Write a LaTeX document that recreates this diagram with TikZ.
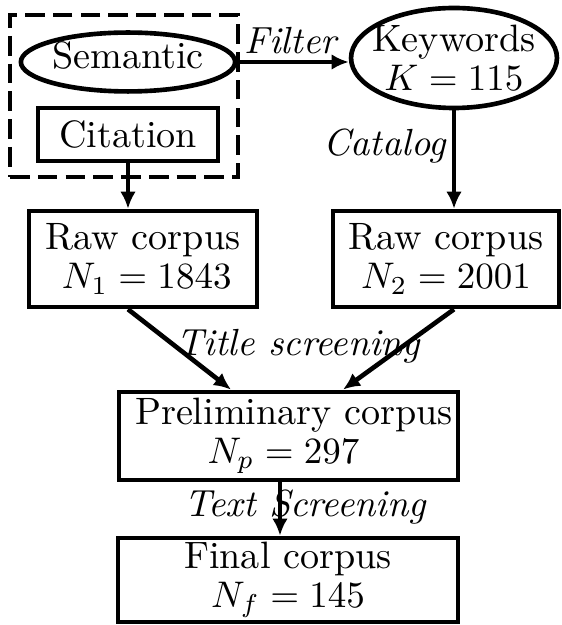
\documentclass[tikz,border=0pt]{standalone}
\usetikzlibrary{shapes.geometric,arrows.meta,calc}
\begin{document}
\begin{tikzpicture}[x=0.27pt,y=-0.27pt,
  every node/.style={font=\fontsize{10.3}{10.4}\selectfont},
  boxnode/.style={draw, line width=1.25pt, rectangle, inner sep=0pt, align=center},
  ellnode/.style={draw, line width=1.25pt, ellipse, inner sep=0pt, align=center},
  grpbox/.style={draw, line width=1.25pt, dash pattern=on 5.3pt off 2.2pt, inner sep=0pt},
  arr/.style={line width=1.25pt, -{Latex[length=4.6pt,width=4.2pt]}},
  lab/.style={font=\fontsize{10.2}{10.4}\selectfont\itshape, inner sep=0pt}
]
\useasboundingbox (0,0) rectangle (561,625);
\node[grpbox, minimum width=61.56pt, minimum height=43.74pt] (grp) at (124,96) {};
\node[ellnode, minimum width=57.8pt, minimum height=15.9pt, text depth=3.6pt] (sem) at (128,62) {Semantic};
\node[boxnode, minimum width=48.6pt, minimum height=14.3pt] (cit) at (128,134.5) {Citation};
\node[ellnode, inner xsep=-2.5pt, minimum width=55.6pt, minimum height=27pt] (kw) at (454,58) {Keywords\\$K=115$};
\node[boxnode, minimum width=61.6pt, minimum height=25.9pt] (r1) at (143,259) {Raw corpus\\\hspace*{2pt}$N_1=1843$};
\node[boxnode, minimum width=61pt, minimum height=25.9pt] (r2) at (446,259) {Raw corpus\\$N_2=2001$};
\node[boxnode, minimum width=91.5pt, minimum height=23.8pt] (pre) at (288.5,436) {\hspace*{3pt}Preliminary corpus\\$N_p=297$\hspace*{2.7pt}};
\node[boxnode, minimum width=91.8pt, minimum height=22.7pt] (fin) at (288,580) {Final corpus\\$N_f=145$};
\draw[arr] (sem.east) -- (sem.east -| kw.west) node[lab, midway, above=1.6pt, xshift=-0.7pt] {Filter};
\draw[arr] (cit.south) -- (cit.south |- r1.north);
\draw[arr] (kw.south) -- (kw.south |- r2.north) node[lab, pos=0.36, left=1.5pt] {Catalog};
\draw[arr] (r1.south -| cit.south) -- ($(pre.north)+(-57.5,0)$) node[lab, midway, xshift=32pt, yshift=0.8pt] {Title screening};
\draw[arr] (r2.south -| kw.south) -- ($(pre.north)+(54.5,0)$);
\draw[arr] ($(pre.south)+(-8.5,0)$) -- ($(fin.north)+(-8,0)$) node[lab, midway, xshift=6.75pt, yshift=0.54pt] {Text Screening};
\end{tikzpicture}
\end{document}
